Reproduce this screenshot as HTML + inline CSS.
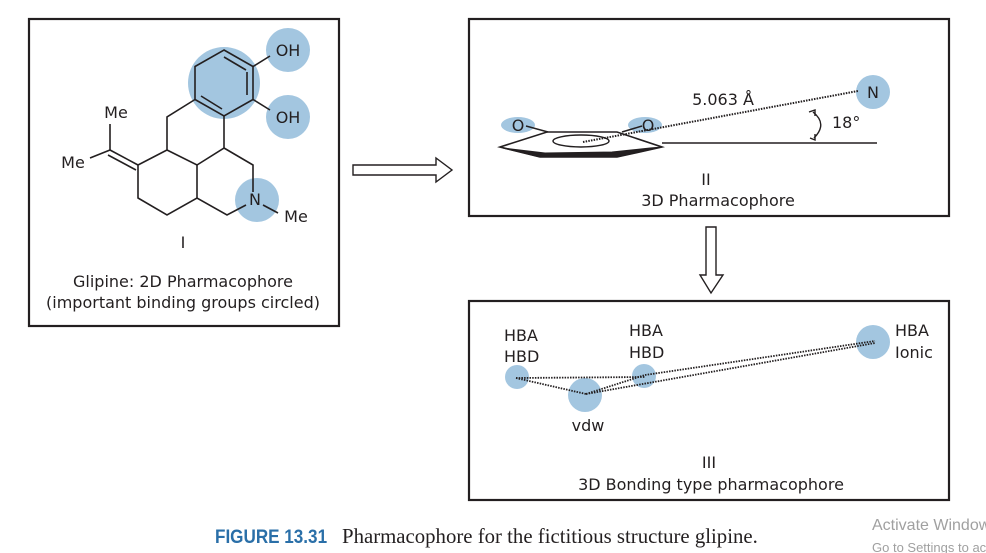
<!DOCTYPE html>
<html><head><meta charset="utf-8"><style>
html,body{margin:0;padding:0;background:#fff;}
svg{display:block;}
text{font-family:"DejaVu Sans","Liberation Sans",sans-serif;fill:#231f20;}
</style></head><body>
<svg width="986" height="553" viewBox="0 0 986 553" xmlns="http://www.w3.org/2000/svg">
<g fill="none" stroke="#231f20" stroke-width="2.2">
<rect x="29" y="19" width="310" height="307"/>
<rect x="469" y="19" width="480" height="197"/>
<rect x="469" y="301" width="480" height="199"/>
</g>
<g fill="#a3c6e0">
<circle cx="224" cy="83" r="36"/>
<circle cx="288" cy="50" r="22"/>
<circle cx="288" cy="117" r="22"/>
<circle cx="257" cy="200" r="22"/>
</g>
<g fill="none" stroke="#231f20" stroke-width="1.6">
<polygon points="224,50 253,66.5 253,99.5 224,116 195,99.5 195,66.5"/>
<line x1="224" y1="57" x2="246" y2="70"/>
<line x1="247" y1="72" x2="247" y2="95"/>
<line x1="201" y1="96" x2="222" y2="109"/>
<line x1="253" y1="66.5" x2="270" y2="56"/>
<line x1="253" y1="99.5" x2="270" y2="110"/>
<polyline points="195,99.5 167,117 167,150 138,165 138,198 167,215 197,198 227,215 246,205"/>
<polyline points="224,116 224,148 197,165 167,150"/>
<line x1="197" y1="165" x2="197" y2="198"/>
<polyline points="224,148 253,165 253,192"/>
<line x1="263" y1="205" x2="278" y2="213"/>
<line x1="138" y1="165" x2="110" y2="150"/>
<line x1="136" y1="170" x2="108" y2="155"/>
<line x1="110" y1="150" x2="110" y2="124"/>
<line x1="110" y1="150" x2="90" y2="158"/>
</g>
<g font-size="16">
<text x="288" y="56" text-anchor="middle">OH</text>
<text x="288" y="123" text-anchor="middle">OH</text>
<text x="255" y="205" text-anchor="middle">N</text>
<text x="296" y="222" text-anchor="middle">Me</text>
<text x="116" y="118" text-anchor="middle">Me</text>
<text x="73" y="168" text-anchor="middle">Me</text>
</g>
<g font-size="16" text-anchor="middle">
<text x="183" y="248">I</text>
<text x="183" y="287">Glipine: 2D Pharmacophore</text>
<text x="183" y="308">(important binding groups circled)</text>
</g>
<polygon points="353,165 436,165 436,158 452,170 436,182 436,175 353,175" fill="#fff" stroke="#231f20" stroke-width="1.4"/>
<polygon points="706,227 716,227 716,275 723,275 711,293 700,275 706,275" fill="#fff" stroke="#231f20" stroke-width="1.4"/>
<g fill="#a3c6e0">
<ellipse cx="518" cy="125" rx="17" ry="8"/>
<ellipse cx="645" cy="125" rx="17" ry="8"/>
<circle cx="873" cy="92" r="17"/>
</g>
<g stroke="#231f20" fill="none">
<polygon points="500,147 547,132 617,132 662,147 617,157 540,157" stroke-width="1.6"/>
<polygon points="540,157 617,157 662,147 650,148 612,152 545,153 503,148" fill="#231f20" stroke-width="1"/>
<line x1="526" y1="126" x2="548" y2="132" stroke-width="1.5"/>
<line x1="622" y1="132" x2="642" y2="126" stroke-width="1.5"/>
<ellipse cx="581" cy="141" rx="28" ry="6" stroke-width="1.4"/>
<line x1="662" y1="143" x2="877" y2="143" stroke-width="1.6"/>
<line x1="583" y1="142" x2="858" y2="91" stroke-width="2" stroke-dasharray="1.5,1.2"/>
<path d="M813,112 Q828,124 814,138" stroke-width="1.4"/>
<path d="M809,112 l6,-2 l0,6 M810,138 l5,2 l0,-6" stroke-width="1.4"/>
</g>
<g font-size="16">
<text x="518" y="131" text-anchor="middle">O</text>
<text x="648" y="131" text-anchor="middle">O</text>
<text x="873" y="98" text-anchor="middle">N</text>
<text x="723" y="105" text-anchor="middle">5.063 Å</text>
<text x="832" y="128">18°</text>
<text x="706" y="185" text-anchor="middle">II</text>
<text x="718" y="206" text-anchor="middle">3D Pharmacophore</text>
</g>
<g fill="#a3c6e0">
<circle cx="517" cy="377" r="12"/>
<circle cx="585" cy="395" r="17"/>
<circle cx="644" cy="376" r="12"/>
<circle cx="873" cy="342" r="17"/>
</g>
<g stroke="#231f20" fill="none" stroke-dasharray="1.5,1.2" stroke-width="1.8">
<line x1="516" y1="378" x2="645" y2="377"/>
<line x1="516" y1="378" x2="586" y2="394"/>
<line x1="586" y1="394" x2="645" y2="375"/>
<line x1="645" y1="375" x2="875" y2="341"/>
<line x1="586" y1="394" x2="875" y2="343"/>
</g>
<g font-size="16">
<text x="504" y="341">HBA</text>
<text x="504" y="362">HBD</text>
<text x="629" y="336">HBA</text>
<text x="629" y="358">HBD</text>
<text x="895" y="336">HBA</text>
<text x="895" y="358">Ionic</text>
<text x="588" y="431" text-anchor="middle">vdw</text>
<text x="709" y="468" text-anchor="middle">III</text>
<text x="711" y="490" text-anchor="middle">3D Bonding type pharmacophore</text>
</g>
<text transform="translate(215,543) scale(0.9,1)" font-size="19" font-weight="bold" style="fill:#2a6fa8;font-family:'Liberation Sans',sans-serif">FIGURE 13.31</text>
<text x="342" y="543" font-size="20.8" style="font-family:'Liberation Serif',serif">Pharmacophore for the fictitious structure glipine.</text>
<text x="872" y="530" font-size="16" style="fill:#a0a0a0;font-family:'Liberation Sans',sans-serif">Activate Windows</text>
<text x="872" y="552" font-size="13" style="fill:#a0a0a0;font-family:'Liberation Sans',sans-serif">Go to Settings to activate</text>
</svg>
</body></html>
